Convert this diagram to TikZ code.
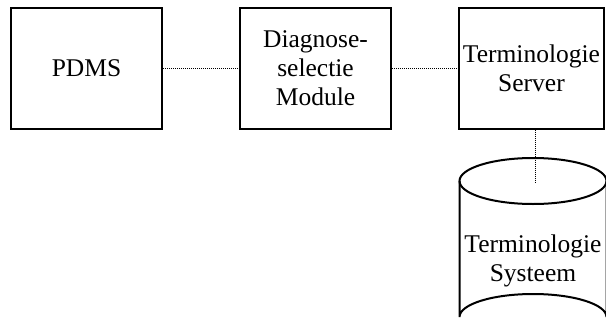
\documentclass[tikz,border=0pt]{standalone}
\usepackage{fontspec}
\setmainfont{Liberation Serif}
\begin{document}
\begin{tikzpicture}[x=1pt,y=-1pt,
  box/.style={draw, line width=2pt, inner sep=0pt, align=center,
    font=\fontsize{25.5}{29}\selectfont},
  lbl/.style={inner sep=0pt, align=center, font=\fontsize{25.5}{29}\selectfont},
  conn/.style={line width=1pt, dash pattern=on 1pt off 1pt},
  outline/.style={line width=2pt}]
\useasboundingbox (0,0) rectangle (606,335);
\node[box, minimum width=151pt, minimum height=121pt] (pdms) at (86.5,68) {PDMS};
\node[box, minimum width=151pt, minimum height=121pt] (diag) at (315.5,68) {Diagnose-\\selectie\\Module};
\node[box, minimum width=145pt, minimum height=121pt] (srv) at (531.5,68) {Terminologie\\Server};
% cylinder (database)
\draw[outline] (459.5,181) -- (459.5,317) arc[start angle=180, end angle=360, x radius=73.5, y radius=23] -- (606.5,181);
\draw[outline] (533,181) ellipse [x radius=73.5, y radius=23];
\node[lbl] (db) at (533,261) {Terminologie\\Systeem};
\coordinate (dbtop) at (535,182);
\draw[conn] (pdms) -- (diag);
\draw[conn] (diag) -- (srv);
\draw[conn] (dbtop |- srv.south) -- (dbtop);
\end{tikzpicture}
\end{document}
